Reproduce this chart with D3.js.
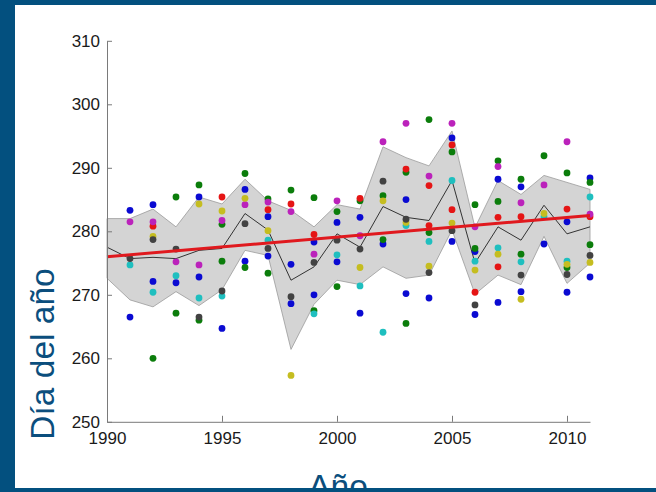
<!DOCTYPE html>
<html>
<head>
<meta charset="utf-8">
<script src="https://cdn.jsdelivr.net/npm/d3@7"></script>
<style>
  html, body { margin: 0; padding: 0; background: #fff; }
  svg { display: block; }
</style>
</head>
<body>
<svg id="chart" width="656" height="492"></svg>
<script>
// Observation years for the scattered day-of-year values
const years = [1991, 1992, 1993, 1994, 1995, 1996, 1997, 1998, 1999, 2000,
               2001, 2002, 2003, 2004, 2005, 2006, 2007, 2008, 2009, 2010, 2011];

// Day-of-year values per year, grouped by marker colour
const blueVals = [[283.3, 266.5], [284.2, 272.1], [271.9], [285.4, 272.8], [264.7], [286.6, 275.3],
  [282.3, 276.1], [274.8, 268.6], [278.3, 270.0], [281.4, 275.2], [282.2, 267.1], [278.0],
  [285.0, 270.2], [269.5], [294.7, 278.4], [276.8, 266.9], [288.2, 268.8], [287.0, 270.5],
  [278.0], [281.5, 270.4], [288.4, 272.8]];
const greenVals = [[], [260.0], [285.4, 267.1], [287.3, 266.0], [281.1, 275.3], [289.1, 274.3],
  [285.1, 273.4], [286.5], [285.3, 267.5], [283.1, 271.3], [284.8], [285.6, 278.7],
  [289.3, 265.5], [297.6, 279.8], [292.5], [284.2, 277.3], [291.1, 284.7], [288.2, 276.4],
  [291.9], [289.2, 274.3], [287.7, 277.9]];
const redVals = [[], [280.8], [], [], [285.4], [], [283.4], [284.3], [279.5], [], [285.2], [],
  [289.8], [287.2, 280.9], [293.6, 283.4], [270.4], [282.2, 274.4], [282.3], [], [283.5], [282.3]];
const cyanVals = [[274.7], [270.4], [273.0], [269.5], [269.8], [], [278.6], [], [267.0], [276.3],
  [271.4], [264.1], [280.9], [278.4], [288.0], [275.3], [277.4], [275.2], [282.3], [275.3], [285.4]];
const magentaVals = [[281.5], [281.5], [275.2], [274.7], [281.7], [284.2], [284.6], [283.1], [276.4],
  [284.8], [279.3], [294.1], [297.0], [288.7], [297.0], [280.7], [290.2], [284.5], [287.3], [294.1], [282.7]];
const yellowVals = [[], [279.2], [], [284.3], [283.2], [285.2], [280.1], [257.3], [], [], [274.3],
  [284.8], [281.4], [274.5], [281.3], [273.9], [276.4], [269.3], [282.8], [274.8], [275.1]];
const grayVals = [[275.7], [278.7], [277.2], [266.5], [270.6], [281.2], [277.3], [269.7], [275.1],
  [278.6], [277.2], [287.9], [281.9], [273.5], [280.1], [268.4], [], [273.1], [], [273.2], [276.2]];

// Yearly mean and spread envelope
const bandYears = [1990, 1991, 1992, 1993, 1994, 1995, 1996, 1997, 1998, 1999, 2000,
                   2001, 2002, 2003, 2004, 2005, 2006, 2007, 2008, 2009, 2010, 2011];
const meanVals  = [277.5, 275.7, 275.9, 275.7, 277.0, 277.3, 282.8, 280.2, 272.3, 274.4, 279.6,
                   277.5, 283.9, 282.2, 281.7, 288.0, 275.0, 280.7, 278.6, 284.1, 279.6, 280.7];
const upperVals = [282.0, 282.0, 283.5, 280.7, 285.4, 284.3, 288.2, 284.8, 283.3, 280.7, 284.2,
                   283.5, 293.3, 291.6, 290.3, 295.8, 280.6, 288.0, 285.8, 288.8, 287.7, 286.6];
const lowerVals = [272.6, 269.2, 268.1, 270.5, 268.3, 270.8, 277.0, 276.2, 261.4, 268.5, 272.3,
                   271.6, 274.4, 272.6, 273.1, 280.2, 270.1, 273.1, 271.6, 279.2, 271.8, 275.0];

// Linear trend endpoints
const trendYears = [1990, 2011];
const trendVals  = [276.0, 282.5];

// Axis ticks
const xTicks = [1990, 1995, 2000, 2005, 2010];
const yTicks = [250, 260, 270, 280, 290, 300, 310];

const seriesList = [
  { vals: blueVals,    color: "#0a0ad2" },
  { vals: greenVals,   color: "#0b7d0b" },
  { vals: redVals,     color: "#e51515" },
  { vals: cyanVals,    color: "#1fbfbf" },
  { vals: magentaVals, color: "#bb22bb" },
  { vals: yellowVals,  color: "#c5bd20" },
  { vals: grayVals,    color: "#424242" }
];

const W = 656, H = 492;
const frameColor = "#03507f";
const svg = d3.select("#chart");

// slide background
svg.append("rect").attr("width", W).attr("height", H).attr("fill", frameColor);
svg.append("rect").attr("x", 15).attr("y", 5).attr("width", W - 15).attr("height", 483).attr("fill", "#fff");

const x = d3.scaleLinear().domain([1990, 2011]).range([107, 590]);
const y = d3.scaleLinear().domain([250, 310]).range([421.8, 40.8]);

// spread envelope
const area = d3.area()
  .x((d, i) => x(bandYears[i]))
  .y0((d, i) => y(lowerVals[i]))
  .y1((d, i) => y(upperVals[i]));
svg.append("path")
  .datum(bandYears)
  .attr("d", area)
  .attr("fill", "#d4d4d4")
  .attr("stroke", "#9a9a9a")
  .attr("stroke-width", 0.8);

// yearly mean
const meanLine = d3.line().x((d, i) => x(bandYears[i])).y((d, i) => y(meanVals[i]));
svg.append("path")
  .datum(bandYears)
  .attr("d", meanLine)
  .attr("fill", "none")
  .attr("stroke", "#333")
  .attr("stroke-width", 1);

// scattered observations
seriesList.forEach(s => {
  const pts = [];
  years.forEach((yr, i) => s.vals[i].forEach(v => pts.push({ yr, v })));
  svg.append("g").selectAll("circle")
    .data(pts)
    .join("circle")
    .attr("cx", d => x(d.yr))
    .attr("cy", d => y(d.v))
    .attr("r", 3.4)
    .attr("fill", s.color);
});

// trend line
const trendLine = d3.line().x((d, i) => x(trendYears[i])).y((d, i) => y(trendVals[i]));
svg.append("path")
  .datum(trendYears)
  .attr("d", trendLine)
  .attr("fill", "none")
  .attr("stroke", "#e0191e")
  .attr("stroke-width", 3);

// axes
const tickFont = "'Liberation Sans', Arial, Helvetica, sans-serif";
const yAxis = svg.append("g")
  .attr("transform", `translate(${x(1990)},0)`)
  .call(d3.axisLeft(y).tickValues(yTicks).tickFormat(d3.format("d"))
    .tickSizeInner(-5).tickSizeOuter(0).tickPadding(7));
const xAxis = svg.append("g")
  .attr("transform", `translate(0,${y(250)})`)
  .call(d3.axisBottom(x).tickValues(xTicks).tickFormat(d3.format("d"))
    .tickSizeInner(-6).tickSizeOuter(0).tickPadding(10));
[yAxis, xAxis].forEach(g => {
  g.select(".domain").attr("stroke", "#7a7a7a").attr("stroke-width", 1);
  g.selectAll(".tick line").attr("stroke", "#7a7a7a");
  g.selectAll("text")
    .attr("fill", "#1a1a1a")
    .style("font-family", tickFont)
    .style("font-size", "17px");
});

// axis titles
const titleColor = "#0b4e7d";
svg.append("text")
  .attr("transform", "translate(54,354) rotate(-90)")
  .attr("text-anchor", "middle")
  .attr("fill", titleColor)
  .style("font-family", tickFont)
  .style("font-size", "33.5px")
  .text("Día del año");
svg.append("text")
  .attr("x", 338)
  .attr("y", 498)
  .attr("text-anchor", "middle")
  .attr("fill", titleColor)
  .style("font-family", tickFont)
  .style("font-size", "33.5px")
  .text("Año");

// bottom edge of the slide frame
svg.append("rect").attr("x", 0).attr("y", 488).attr("width", W).attr("height", H - 488).attr("fill", frameColor);
</script>
</body>
</html>
